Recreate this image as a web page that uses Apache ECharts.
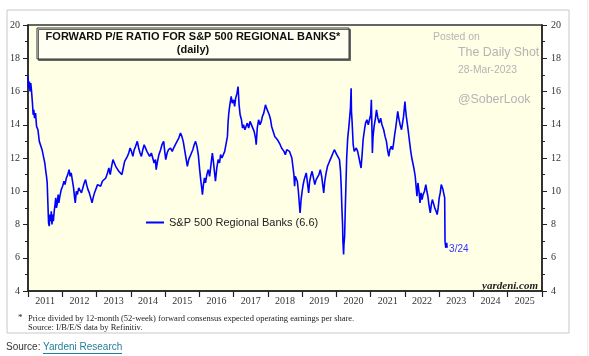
<!DOCTYPE html>
<html><head><meta charset="utf-8">
<script src="https://cdn.jsdelivr.net/npm/echarts@6/dist/echarts.min.js"></script>
<style>html,body{margin:0;padding:0;background:#fff;}#c{width:589px;height:356px;}</style>
</head><body><div id="c"></div>
<script>
// time in decimal years
const dates = [
2011.00,2011.02,2011.04,2011.06,2011.08,2011.10,2011.13,2011.15,2011.17,2011.19,2011.22,2011.25,2011.29,2011.33,2011.37,2011.41,2011.45,2011.47,2011.49,2011.52,
2011.54,2011.56,2011.58,2011.60,2011.62,2011.64,2011.66,2011.68,2011.70,2011.72,2011.74,2011.77,2011.79,2011.81,2011.83,2011.85,2011.88,2011.90,2011.93,2011.97,
2012.01,2012.05,2012.08,2012.12,2012.16,2012.20,2012.23,2012.26,2012.30,2012.33,2012.36,2012.38,2012.41,2012.44,2012.48,2012.52,2012.56,2012.60,2012.64,2012.68,
2012.71,2012.75,2012.79,2012.83,2012.87,2012.90,2012.94,2012.97,2013.03,2013.07,2013.12,2013.17,2013.22,2013.27,2013.32,2013.36,2013.40,2013.44,2013.48,2013.52,
2013.56,2013.60,2013.65,2013.70,2013.74,2013.78,2013.82,2013.86,2013.90,2013.94,2013.98,2014.02,2014.06,2014.10,2014.14,2014.19,2014.23,2014.27,2014.31,2014.35,
2014.39,2014.43,2014.47,2014.51,2014.55,2014.60,2014.64,2014.68,2014.72,2014.74,2014.78,2014.82,2014.87,2014.91,2014.96,2014.99,2015.02,2015.06,2015.10,2015.16,
2015.21,2015.25,2015.30,2015.35,2015.40,2015.45,2015.49,2015.53,2015.57,2015.61,2015.65,2015.69,2015.73,2015.77,2015.81,2015.85,2015.89,2015.93,2015.97,2016.01,
2016.04,2016.07,2016.09,2016.12,2016.15,2016.18,2016.22,2016.26,2016.30,2016.34,2016.38,2016.41,2016.44,2016.47,2016.51,2016.55,2016.59,2016.62,2016.66,2016.70,
2016.74,2016.78,2016.82,2016.84,2016.86,2016.89,2016.93,2016.96,2017.00,2017.03,2017.06,2017.10,2017.13,2017.16,2017.19,2017.23,2017.26,2017.29,2017.33,2017.36,
2017.40,2017.44,2017.48,2017.52,2017.56,2017.60,2017.64,2017.66,2017.69,2017.73,2017.77,2017.81,2017.84,2017.88,2017.93,2017.96,2018.00,2018.04,2018.08,2018.11,
2018.14,2018.17,2018.20,2018.24,2018.28,2018.32,2018.36,2018.40,2018.44,2018.47,2018.51,2018.55,2018.59,2018.63,2018.67,2018.70,2018.73,2018.76,2018.78,2018.80,
2018.83,2018.86,2018.89,2018.92,2018.94,2018.97,2019.00,2019.03,2019.06,2019.09,2019.12,2019.15,2019.19,2019.22,2019.25,2019.29,2019.33,2019.37,2019.41,2019.45,
2019.49,2019.53,2019.57,2019.60,2019.63,2019.66,2019.70,2019.74,2019.78,2019.82,2019.86,2019.90,2019.94,2019.97,2020.01,2020.05,2020.09,2020.12,2020.14,2020.16,
2020.18,2020.19,2020.21,2020.22,2020.24,2020.26,2020.28,2020.30,2020.33,2020.36,2020.39,2020.41,2020.43,2020.44,2020.46,2020.49,2020.52,2020.55,2020.58,2020.62,
2020.66,2020.70,2020.72,2020.75,2020.78,2020.82,2020.85,2020.89,2020.93,2020.97,2021.00,2021.02,2021.04,2021.05,2021.07,2021.10,2021.14,2021.17,2021.21,2021.25,
2021.29,2021.33,2021.38,2021.42,2021.46,2021.50,2021.53,2021.56,2021.60,2021.64,2021.67,2021.70,2021.73,2021.76,2021.79,2021.82,2021.86,2021.90,2021.93,2021.96,
2022.00,2022.02,2022.04,2022.08,2022.11,2022.14,2022.17,2022.20,2022.23,2022.26,2022.30,2022.33,2022.35,2022.38,2022.41,2022.44,2022.47,2022.50,2022.53,2022.57,
2022.61,2022.64,2022.67,2022.70,2022.74,2022.77,2022.80,2022.83,2022.87,2022.91,2022.94,2022.97,2023.00,2023.03,2023.06,2023.08,2023.11,2023.14,2023.16,2023.17,
2023.19,2023.20,2023.22,2023.23
];
const peValues = [
16.9,16.2,16.6,16.0,16.5,16.1,15.3,14.6,14.9,14.4,14.7,13.9,13.7,13.0,12.9,12.5,12.4,11.9,11.7,11.2,
10.9,10.5,9.3,8.1,7.9,8.6,8.2,8.8,8.0,8.6,8.2,8.9,9.2,9.6,9.0,9.2,9.8,9.3,9.7,10.1,
10.3,10.6,10.4,10.8,11.0,11.3,10.9,11.1,10.6,10.2,9.6,9.3,10.0,9.8,10.2,10.3,9.9,10.2,10.5,10.7,
10.4,10.1,9.9,9.6,9.3,9.6,9.9,10.0,10.4,10.5,10.3,10.6,10.5,10.8,11.1,11.4,11.0,11.5,11.9,11.7,
11.5,11.6,11.2,11.3,11.0,11.4,11.8,11.9,12.1,12.3,12.6,12.4,12.1,12.5,12.7,13.0,12.6,12.3,12.1,12.5,
12.8,12.7,12.4,12.5,12.1,12.3,12.0,11.7,11.9,11.3,11.8,12.2,12.5,12.8,13.0,12.4,11.9,12.3,12.5,12.6,
12.4,12.6,12.8,13.0,13.2,13.5,13.3,13.0,12.5,12.0,11.5,11.9,12.0,12.3,12.5,12.8,13.0,12.7,12.2,11.3,
10.7,10.2,9.8,10.4,10.8,10.5,11.0,11.3,10.9,11.6,12.3,11.8,11.2,10.6,11.4,11.9,11.7,12.2,12.0,12.1,
12.4,12.5,13.3,14.2,14.7,15.2,15.7,15.3,15.5,15.1,15.6,15.9,16.3,15.2,14.6,14.3,13.8,14.0,13.7,13.6,
14.1,13.8,14.2,14.3,13.8,13.6,13.2,12.8,13.8,14.3,14.0,14.2,14.5,14.7,15.2,15.0,14.9,14.6,14.3,13.9,
13.7,13.5,13.3,13.4,13.1,13.0,12.8,12.6,12.5,12.4,12.2,12.5,12.6,12.4,12.3,12.0,11.5,11.0,10.3,10.9,
11.0,10.6,10.0,9.2,8.7,9.5,10.0,10.4,10.7,10.9,11.1,10.6,9.9,10.6,10.9,11.2,10.8,10.4,10.7,10.6,
11.0,11.3,10.9,10.4,9.9,10.6,11.1,11.5,11.7,11.9,12.1,12.3,12.5,12.4,12.2,12.1,11.9,11.2,10.3,9.0,
8.0,7.0,6.2,6.8,7.3,9.0,10.5,12.0,13.2,13.8,14.5,15.0,16.2,14.8,14.1,12.8,12.4,12.3,12.6,12.4,
12.0,11.9,11.4,12.2,13.1,13.7,14.1,14.3,14.0,13.9,14.6,15.5,13.5,12.3,13.3,13.9,14.4,14.9,14.4,14.1,
14.4,14.0,13.7,13.3,13.0,12.4,12.1,12.5,12.7,12.5,12.9,13.4,13.8,14.3,14.8,14.4,14.0,13.7,14.1,14.5,
15.4,14.9,14.5,13.9,13.4,12.9,12.4,12.0,11.7,11.4,10.9,10.2,9.7,10.5,10.0,9.3,9.9,9.5,9.8,10.0,
10.4,10.0,9.7,9.2,8.7,9.2,9.5,9.3,9.0,8.8,8.6,9.0,9.6,9.9,10.4,10.3,10.1,9.8,9.6,7.0,
6.6,6.5,6.9,6.6
];
const yearLabels = ['2011','2012','2013','2014','2015','2016','2017','2018','2019','2020','2021','2022','2023','2024','2025'];
const seriesName = 'S&P 500 Regional Banks (6.6)';
const lastLabel = '3/24';

const chart = echarts.init(document.getElementById('c'), null, {renderer:'canvas'});
const serif = '"Liberation Serif","Times New Roman",serif';
const sans = '"Liberation Sans",Arial,sans-serif';
const axisColor = '#222';
const yAxisCommon = {
  type:'value', min:4, max:20, interval:2,
  axisLine:{show:true, lineStyle:{color:axisColor, width:1.5}},
  axisTick:{show:true, length:5, lineStyle:{color:axisColor}},
  minorTick:{show:true, splitNumber:2, length:3, lineStyle:{color:axisColor}},
  splitLine:{show:false},
  axisLabel:{fontFamily:serif, fontSize:10, color:'#333', margin:8}
};
chart.setOption({
  animation:false,
  backgroundColor:'#ffffff',
  grid:{left:28, top:25, width:514, height:266, show:true, backgroundColor:'#FFFFE6', borderColor:'#333', borderWidth:1.5},
  legend:{
    show:true, left:141, top:212, itemWidth:18, itemHeight:2, icon:'rect', itemGap:4,
    textStyle:{fontFamily:sans, fontSize:11, color:'#222'},
    data:[{name:seriesName, itemStyle:{color:'#0000ff'}}]
  },
  xAxis:[
    {type:'value', min:2011, max:2026, interval:1,
     axisLine:{show:true, lineStyle:{color:axisColor, width:1.5}},
     axisTick:{show:true, length:6, lineStyle:{color:axisColor, width:1.2}},
     axisLabel:{show:false}, splitLine:{show:false}},
    {type:'category', data:yearLabels, position:'bottom', boundaryGap:true,
     axisLine:{show:false}, axisTick:{show:false}, splitLine:{show:false},
     axisLabel:{fontFamily:serif, fontSize:10, color:'#333', margin:5, interval:0}}
  ],
  yAxis:[
    Object.assign({position:'left'}, yAxisCommon),
    Object.assign({position:'right'}, yAxisCommon, {axisLabel:{fontFamily:serif, fontSize:10, color:'#333', margin:9}})
  ],
  series:[{
    name:seriesName, type:'line', xAxisIndex:0, yAxisIndex:0,
    data:dates.map((d,i)=>[d, peValues[i]]),
    showSymbol:false, symbol:'none',
    lineStyle:{color:'#0000ff', width:1.6},
    itemStyle:{color:'#0000ff'},
    endLabel:{show:true, formatter:lastLabel, color:'#3333ff', fontFamily:sans, fontSize:10, distance:2, offset:[0,1]}
  }],
  graphic:[
    {type:'rect', shape:{x:7, y:10, width:562, height:323}, style:{fill:'none', stroke:'#c8c8c8', lineWidth:1}, silent:true},
    {type:'line', shape:{x1:587.5, y1:0, x2:587.5, y2:356}, style:{stroke:'#ececec', lineWidth:1}, silent:true},
    {type:'rect', shape:{x:37, y:28, width:312, height:31}, style:{fill:'#FFFFF2', stroke:'#333', lineWidth:1, shadowColor:'#666', shadowOffsetX:1.5, shadowOffsetY:1.5, shadowBlur:0}, z:10},
    {type:'text', x:193, y:37, style:{text:'FORWARD P/E RATIO FOR S&P 500 REGIONAL BANKS*', font:'bold 11px '+sans, fill:'#111', textAlign:'center', textVerticalAlign:'middle'}, z:11},
    {type:'text', x:193, y:50, style:{text:'(daily)', font:'bold 11px '+sans, fill:'#111', textAlign:'center', textVerticalAlign:'middle'}, z:11},
    {type:'text', x:433, y:37, style:{text:'Posted on', font:'10.4px '+sans, fill:'#b4b4b4', textVerticalAlign:'middle'}, z:11},
    {type:'text', x:458, y:53, style:{text:'The Daily Shot', font:'12.4px '+sans, fill:'#b4b4b4', textVerticalAlign:'middle'}, z:11},
    {type:'text', x:458, y:70, style:{text:'28-Mar-2023', font:'10.3px '+sans, fill:'#b4b4b4', textVerticalAlign:'middle'}, z:11},
    {type:'text', x:458, y:100, style:{text:'@SoberLook', font:'12.4px '+sans, fill:'#b4b4b4', textVerticalAlign:'middle'}, z:11},
    {type:'text', x:538, y:286, style:{text:'yardeni.com', font:'italic bold 11px '+serif, fill:'#222', textAlign:'right', textVerticalAlign:'middle'}, z:11},
    {type:'text', x:18, y:318, style:{text:'*', font:'9px '+serif, fill:'#222', textVerticalAlign:'middle'}},
    {type:'text', x:28, y:318.5, style:{text:'Price divided by 12-month (52-week) forward consensus expected operating earnings per share.', font:'8.5px '+serif, fill:'#222', textVerticalAlign:'middle'}},
    {type:'text', x:28, y:327.5, style:{text:'Source: I/B/E/S data by Refinitiv.', font:'8.5px '+serif, fill:'#222', textVerticalAlign:'middle'}},
    {type:'text', x:6, y:347.5, style:{text:'Source: ', font:'10px '+sans, fill:'#333', textVerticalAlign:'middle'}},
    {type:'text', x:43, y:347.5, style:{text:'Yardeni Research', font:'10px '+sans, fill:'#1f7f9a', textVerticalAlign:'middle'}},
    {type:'line', shape:{x1:43, y1:353.5, x2:122, y2:353.5}, style:{stroke:'#1f7f9a', lineWidth:1}}
  ]
});
</script></body></html>
